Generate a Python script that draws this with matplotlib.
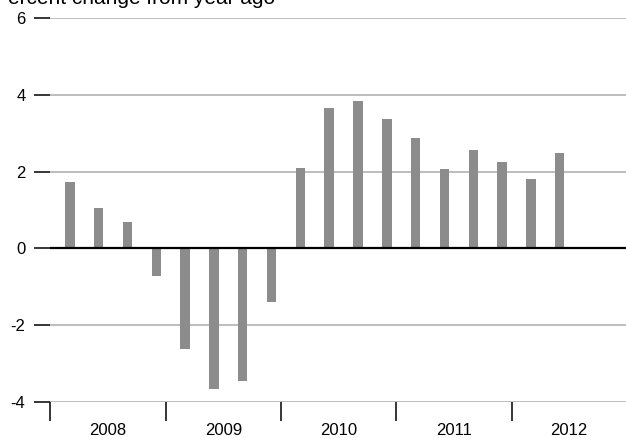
import numpy as np
import matplotlib
matplotlib.use("Agg")
from matplotlib import pyplot as plt

plt.rcParams['font.family'] = ['Liberation Sans', 'DejaVu Sans']

# quarterly values, 2008 Q1 .. 2012 Q2
years = ['2008', '2009', '2010', '2011', '2012']
values = [1.73, 1.04, 0.70, -0.71,
          -2.62, -3.67, -3.46, -1.39,
          2.09, 3.65, 3.83, 3.36,
          2.88, 2.06, 2.55, 2.24,
          1.80, 2.48]
y_ticks = [-4, -2, 0, 2, 4, 6]

x = np.arange(len(values))

fig = plt.figure(figsize=(6.26, 4.38), dpi=100)
ax = fig.add_axes([50.5 / 626, 36 / 438, 1 - 50.5 / 626, (402.3 - 18.3) / 438])

for t in y_ticks:
    if t == 0:
        continue
    ax.axhline(t, color='#bdbdbd', lw=1.4, zorder=1)
ax.bar(x, values, width=0.33, color='#8c8c8c', zorder=2)
ax.axhline(0, color='black', lw=1.6, zorder=3)

ax.set_ylim(-4, 6)
ax.set_xlim(-0.67, 19.3)

for s in ax.spines.values():
    s.set_visible(False)

ax.set_yticks(y_ticks)
ax.set_yticklabels([str(t) for t in y_ticks])
ax.tick_params(axis='y', length=11.5, width=1.1, color='black', pad=6.5, labelsize=12)

bounds = [-0.67 + 4 * k for k in range(len(years))]
centers = [1.33 + 4 * k for k in range(len(years))]
ax.set_xticks(bounds)
ax.set_xticklabels([''] * len(bounds))
ax.tick_params(axis='x', which='major', length=13.7, width=1.1, color='black', direction='out')
ax.set_xticks(centers, minor=True)
ax.set_xticklabels(years, minor=True)
ax.tick_params(axis='x', which='minor', length=0, pad=15, labelsize=12)

# title sits partly above the top edge, as in the original
fig.text(-6.5 / 626, 1 - 3.5 / 438, 'Percent change from year ago',
         fontsize=15, ha='left', va='baseline')

fig.savefig('out.png', dpi=100)
